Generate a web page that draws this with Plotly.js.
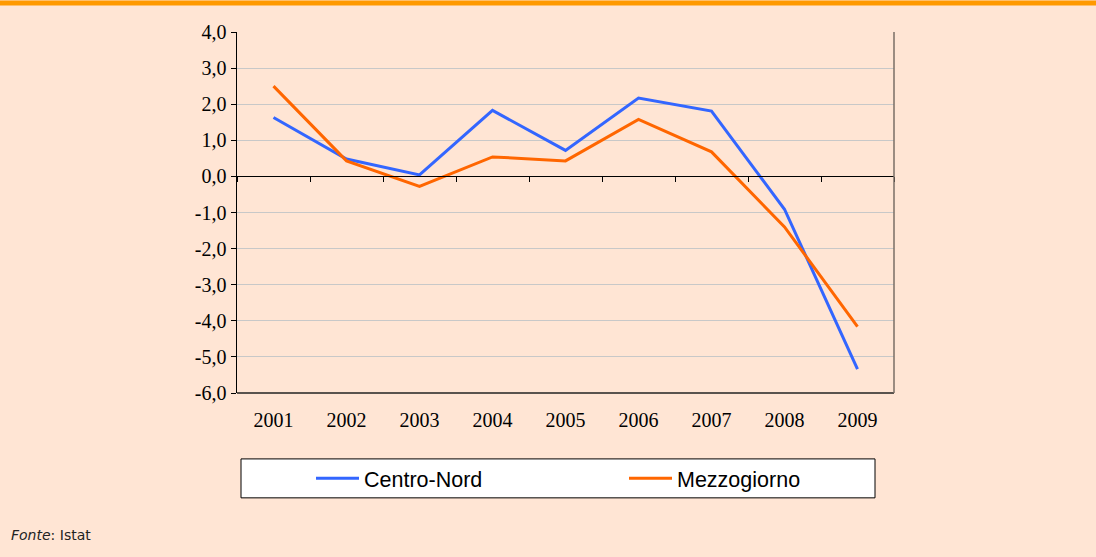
<!DOCTYPE html>
<html>
<head>
<meta charset="utf-8">
<script src="https://cdn.plot.ly/plotly-3.0.1.min.js"></script>
<style>html,body{margin:0;padding:0;background:#FFE5D4;}#chart{width:1096px;height:557px;}</style>
</head>
<body>
<div id="chart"></div>
<script>
const years = ["2001","2002","2003","2004","2005","2006","2007","2008","2009"];
const centroNord = [1.63, 0.48, 0.04, 1.83, 0.72, 2.17, 1.81, -0.91, -5.34];
const mezzogiorno = [2.50, 0.43, -0.28, 0.54, 0.43, 1.58, 0.68, -1.40, -4.16];
const yTickVals = [-6, -5, -4, -3, -2, -1, 0, 1, 2, 3, 4];
const yTickText = ["-6,0", "-5,0", "-4,0", "-3,0", "-2,0", "-1,0", "0,0", "1,0", "2,0", "3,0", "4,0"];
const seriesNames = ["Centro-Nord", "Mezzogiorno"];
const sourceNote = "<i>Fonte</i>: Istat";

const W = 1096, H = 557;
const L = 237, R = 202, T = 31.5, B = 164;
const pw = W - L - R, ph = H - T - B;
const px = x => (x - L) / pw;
const py = y => (H - B - y) / ph;

const traces = [
  {x: years, y: centroNord, name: seriesNames[0], type: "scatter", mode: "lines",
   line: {color: "#3366FF", width: 3}},
  {x: years, y: mezzogiorno, name: seriesNames[1], type: "scatter", mode: "lines",
   line: {color: "#FF6600", width: 3}}
];

const layout = {
  width: W, height: H,
  margin: {l: L, r: R, t: T, b: B, pad: 0},
  paper_bgcolor: "#FFE5D4",
  plot_bgcolor: "#FFE5D4",
  showlegend: true,
  hovermode: false,
  font: {family: "Liberation Serif, Times New Roman, serif", color: "#000"},
  xaxis: {
    type: "category", categoryarray: years, range: [-0.5, 8.5],
    anchor: "free", position: 0.6,
    showline: true, linecolor: "#000", linewidth: 1,
    ticks: "outside", ticklen: 5, tickwidth: 1, tickcolor: "#000",
    tickson: "boundaries", showgrid: false, zeroline: false,
    ticklabelstandoff: 226,
    tickfont: {family: "Liberation Serif, Times New Roman, serif", size: 20, color: "#000"}
  },
  yaxis: {
    range: [-6, 4], tickvals: yTickVals, ticktext: yTickText,
    showline: true, linecolor: "#000", linewidth: 1.5,
    ticks: "outside", ticklen: 5, tickcolor: "#000",
    showgrid: true, gridcolor: "#C8C8C8", gridwidth: 1,
    zeroline: false,
    tickfont: {family: "Liberation Serif, Times New Roman, serif", size: 20, color: "#000"}
  },
  legend: {
    orientation: "h", x: px(311), xanchor: "left", y: py(478.5), yanchor: "middle",
    bgcolor: "rgba(0,0,0,0)", borderwidth: 0,
    entrywidth: 255, itemwidth: 43,
    font: {family: "Liberation Sans, Arial, sans-serif", size: 21.5, color: "#000"}
  },
  shapes: [
    {type: "rect", xref: "paper", yref: "paper", x0: px(0), x1: px(W), y0: py(5), y1: py(0),
     fillcolor: "#FF9900", line: {width: 0}, layer: "above"},
    {type: "line", xref: "paper", yref: "paper", x0: 0, x1: 1, y0: 0, y1: 0,
     line: {color: "#222", width: 1.5}},
    {type: "line", xref: "paper", yref: "paper", x0: 1, x1: 1, y0: 0, y1: 1,
     line: {color: "#7a6e66", width: 1.5}},
    {type: "rect", xref: "paper", yref: "paper", x0: px(241), x1: px(875), y0: py(498), y1: py(459),
     fillcolor: "#FFFFFF", line: {color: "#000", width: 1}, layer: "below"}
  ],
  annotations: [
    {text: sourceNote, xref: "paper", yref: "paper", x: px(9), y: py(535),
     xanchor: "left", yanchor: "middle", showarrow: false,
     font: {family: "DejaVu Sans, Verdana, sans-serif", size: 14, color: "#222"}}
  ]
};

Plotly.newPlot("chart", traces, layout, {displayModeBar: false, staticPlot: true});
</script>
</body>
</html>
